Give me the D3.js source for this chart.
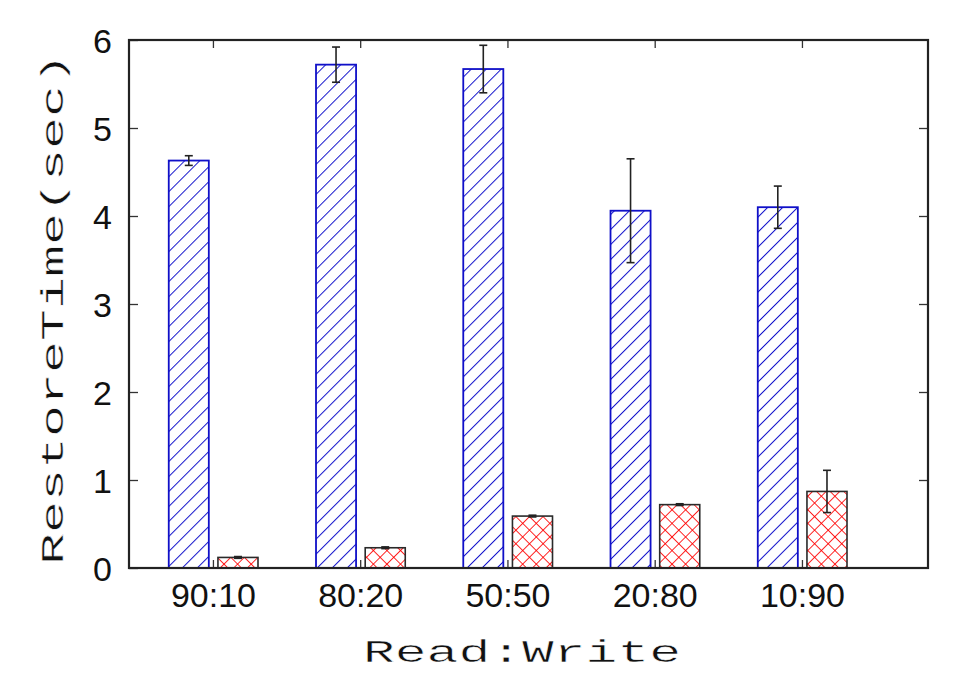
<!DOCTYPE html>
<html>
<head>
<meta charset="utf-8" />
<title>RestoreTime</title>
<style>
  body { margin: 0; background: #fff; }
</style>
</head>
<body>
<div id="chart"></div>
<script src="https://d3js.org/d3.v7.min.js"></script>
<script>
// data
const ratios = ["90:10", "80:20", "50:50", "20:80", "10:90"];
const blueTime = [4.63, 5.72, 5.67, 4.06, 4.10];
const blueErr = [0.055, 0.20, 0.27, 0.59, 0.24];
const redTime = [0.12, 0.23, 0.59, 0.72, 0.87];
const redErr = [0.01, 0.01, 0.01, 0.01, 0.24];
const yTicks = [0, 1, 2, 3, 4, 5, 6];

const width = 968, height = 676;
const plotL = 129, plotR = 928, plotT = 40, plotB = 568;

const svg = d3.select("#chart").append("svg")
  .attr("width", width).attr("height", height);

// patterns
const defs = svg.append("defs");
defs.append("pattern")
  .attr("id", "hatch")
  .attr("patternUnits", "userSpaceOnUse")
  .attr("width", 10.6).attr("height", 10.6)
  .attr("patternTransform", "rotate(45)")
  .append("line")
  .attr("x1", 0).attr("y1", 0).attr("x2", 0).attr("y2", 10.6)
  .attr("stroke", "#1414cc").attr("stroke-width", 2);

const cross = defs.append("pattern")
  .attr("id", "cross")
  .attr("patternUnits", "userSpaceOnUse")
  .attr("width", 9.6).attr("height", 9.6)
  .attr("patternTransform", "rotate(45)");
cross.append("line")
  .attr("x1", 0).attr("y1", 0).attr("x2", 0).attr("y2", 9.6)
  .attr("stroke", "#ff0000").attr("stroke-width", 1.7);
cross.append("line")
  .attr("x1", 0).attr("y1", 0).attr("x2", 9.6).attr("y2", 0)
  .attr("stroke", "#ff0000").attr("stroke-width", 1.7);

const x = d3.scaleLinear().domain([-0.570, 4.856]).range([plotL, plotR]);
const y = d3.scaleLinear().domain([0, 6]).range([plotB, plotT]);

const barW = 0.272;
const blueOff = -0.300, redOff = 0.034;

const rows = ratios.map((r, i) => ({
  i: i, r: r, b: blueTime[i], be: blueErr[i], rv: redTime[i], re: redErr[i]
}));

// blue bars
svg.selectAll("rect.blue").data(rows).enter().append("rect")
  .attr("class", "blue")
  .attr("x", d => x(d.i + blueOff))
  .attr("width", x(barW) - x(0))
  .attr("y", d => y(d.b))
  .attr("height", d => y(0) - y(d.b))
  .attr("fill", "url(#hatch)")
  .attr("stroke", "#1010c8").attr("stroke-width", 1.8);

// red bars
svg.selectAll("rect.red").data(rows).enter().append("rect")
  .attr("class", "red")
  .attr("x", d => x(d.i + redOff))
  .attr("width", x(barW) - x(0))
  .attr("y", d => y(d.rv))
  .attr("height", d => y(0) - y(d.rv))
  .attr("fill", "url(#cross)")
  .attr("stroke", "#2a2a2a").attr("stroke-width", 1.6);

// error bars
const errs = [];
rows.forEach(d => {
  errs.push({ cx: d.i + blueOff + barW / 2, v: d.b, e: d.be });
  errs.push({ cx: d.i + redOff + barW / 2, v: d.rv, e: d.re });
});
const eg = svg.selectAll("g.err").data(errs).enter().append("g")
  .attr("stroke", "#222").attr("stroke-width", 1.6);
eg.append("line")
  .attr("x1", d => x(d.cx)).attr("x2", d => x(d.cx))
  .attr("y1", d => y(d.v + d.e)).attr("y2", d => y(d.v - d.e));
eg.append("line")
  .attr("x1", d => x(d.cx) - 4).attr("x2", d => x(d.cx) + 4)
  .attr("y1", d => y(d.v + d.e)).attr("y2", d => y(d.v + d.e));
eg.append("line")
  .attr("x1", d => x(d.cx) - 4).attr("x2", d => x(d.cx) + 4)
  .attr("y1", d => y(d.v - d.e)).attr("y2", d => y(d.v - d.e));

// axes (ticks inward, mirrored)
const tickFont = "'Liberation Sans', Arial, sans-serif";
const yAxisL = svg.append("g").attr("transform", `translate(${plotL},0)`)
  .call(d3.axisLeft(y).tickValues(yTicks).tickFormat(d3.format("d"))
    .tickSize(-9).tickPadding(17));
const yAxisR = svg.append("g").attr("transform", `translate(${plotR},0)`)
  .call(d3.axisRight(y).tickValues(yTicks.slice(1, -1)).tickSize(-9).tickFormat(""));
const xAxisB = svg.append("g").attr("transform", `translate(0,${plotB})`)
  .call(d3.axisBottom(x).tickValues(d3.range(ratios.length))
    .tickSize(-8).tickPadding(15).tickFormat(i => ratios[i]));
const xAxisT = svg.append("g").attr("transform", `translate(0,${plotT})`)
  .call(d3.axisTop(x).tickValues(d3.range(ratios.length)).tickSize(-8).tickFormat(""));

[yAxisL, yAxisR, xAxisB, xAxisT].forEach(a => {
  a.select(".domain").remove();
  a.selectAll(".tick line").attr("stroke", "#333").attr("stroke-width", 1.3);
  a.selectAll("text").attr("font-family", tickFont).attr("font-size", 34).attr("fill", "#111");
});
yAxisL.selectAll("text").attr("dy", "0.36em");

// frame
svg.append("rect")
  .attr("x", plotL).attr("y", plotT)
  .attr("width", plotR - plotL).attr("height", plotB - plotT)
  .attr("fill", "none").attr("stroke", "#222").attr("stroke-width", 2.2);

// titles: wide courier-like look, glyphs stretched horizontally to the target length
const mono = "'Liberation Mono', 'Courier New', monospace";
function wideTitle(label, cx, cy, len, rot) {
  const g = svg.append("g").attr("transform", `translate(${cx},${cy}) rotate(${rot})`);
  const t = g.append("text")
    .attr("text-anchor", "middle")
    .attr("font-family", mono).attr("font-size", 32)
    .attr("fill", "#111").attr("stroke", "#fff").attr("stroke-width", 0.45)
    .text(label);
  const w = t.node().getComputedTextLength();
  t.attr("transform", `scale(${len / w},1)`);
}
wideTitle("Read:Write", 522, 662, 318, 0);
wideTitle("RestoreTime(sec)", 63, 309, 512, -90);
</script>
</body>
</html>
